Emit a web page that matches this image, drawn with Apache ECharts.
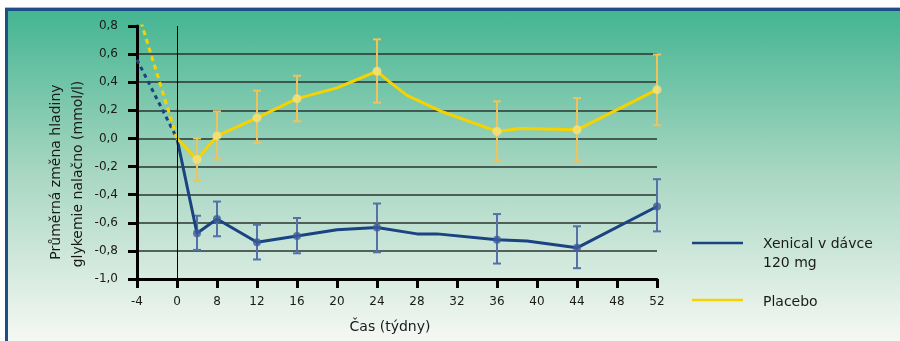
<!DOCTYPE html>
<html>
<head>
<meta charset="utf-8">
<script src="https://cdn.jsdelivr.net/npm/echarts@6/dist/echarts.min.js"></script>
<style>
  html, body { margin: 0; padding: 0; background: #ffffff; overflow: hidden; }
  #frame { position: absolute; left: 0; top: 0; width: 900px; height: 341px; background: #ffffff; overflow: hidden; }
  .edge { position: absolute; }
  #topLight { left: 5px; top: 7px; width: 895px; height: 1px; background: #a3bcd8; }
  #topDark  { left: 5px; top: 8px; width: 895px; height: 3px; background: #1f4d88; }
  #leftDark { left: 5px; top: 8px; width: 3px; height: 333px; background: #1f4d88; }
  #panel {
    position: absolute; left: 8px; top: 11px; width: 892px; height: 330px;
    background: linear-gradient(to bottom, #44b592 0%, #a6d6c1 48%, #f5f8f4 100%);
  }
  #chart { position: absolute; left: 0; top: 0; width: 900px; height: 341px; }
</style>
</head>
<body>
<div id="frame">
  <div id="panel"></div>
  <div class="edge" id="topLight"></div>
  <div class="edge" id="topDark"></div>
  <div class="edge" id="leftDark"></div>
  <div id="chart"></div>
</div>
<script>
// Tick labels on the time axis (weeks); the axis is evenly spaced per label.
const xTickLabels = ['-4', '0', '8', '12', '16', '20', '24', '28', '32', '36', '40', '44', '48', '52'];

// Measurement weeks shared by both groups
const measuredWeeks = [4, 8, 12, 16, 24, 36, 44, 52];

// Xenical 120 mg: mean change and error bar limits (mmol/l)
const xenicalMean = [-0.675, -0.573, -0.739, -0.694, -0.634, -0.72, -0.778, -0.484];
const xenicalLow  = [-0.793, -0.696, -0.861, -0.817, -0.81, -0.89, -0.923, -0.661];
const xenicalHigh = [-0.55, -0.449, -0.614, -0.566, -0.463, -0.538, -0.625, -0.29];
// Extra vertices of the Xenical curve between measurements
const xenicalPathWeeks  = [0, 20, 28, 30, 39];
const xenicalPathValues = [0, -0.65, -0.679, -0.679, -0.729];
// Dashed run-in segment
const xenicalRunInWeeks  = [-4, 0];
const xenicalRunInValues = [0.56, 0];

// Placebo: mean change and error bar limits (mmol/l)
const placeboMean = [-0.149, 0.018, 0.146, 0.283, 0.478, 0.05, 0.061, 0.347];
const placeboLow  = [-0.30, -0.149, -0.033, 0.122, 0.255, -0.161, -0.163, 0.094];
const placeboHigh = [0.0, 0.193, 0.34, 0.446, 0.705, 0.264, 0.287, 0.597];
// Extra vertices of the placebo curve between measurements
const placeboPathWeeks  = [0, 20, 25, 27, 30.6, 38.3];
const placeboPathValues = [0, 0.36, 0.417, 0.306, 0.188, 0.071];
// Dashed run-in segment
const placeboRunInWeeks  = [-3.6, 0];
const placeboRunInValues = [0.83, 0];

// Texts
const yTitleLines = ['Průměrná změna hladiny', 'glykemie nalačno (mmol/l)'];
const xTitle = 'Čas (týdny)';
const seriesNames = ['Xenical v dávce\n120 mg', 'Placebo'];

// Map a week to its position on the evenly spaced label axis:
// -4..0 spans one step, 0..8 spans one step, then 4 weeks per step.
function weekToPos(w) {
  if (w <= 0) return 1 + w / 4;
  if (w <= 8) return 1 + w / 8;
  return 2 + (w - 8) / 4;
}

function buildPath(mWeeks, mVals, pWeeks, pVals) {
  const pts = [];
  mWeeks.forEach((w, i) => pts.push([w, mVals[i]]));
  pWeeks.forEach((w, i) => pts.push([w, pVals[i]]));
  pts.sort((a, b) => a[0] - b[0]);
  return pts.map(p => [weekToPos(p[0]), p[1]]);
}
function buildPoints(weeks, vals) {
  return weeks.map((w, i) => [weekToPos(w), vals[i]]);
}
function buildErr(weeks, lo, hi) {
  return weeks.map((w, i) => [weekToPos(w), lo[i], hi[i]]);
}

const FONT = 'DejaVu Sans';
const BLUE = '#1b4382';
const BLUE_PT = '#3f5c98';
const BLUE_ERR = '#5670a8';
const YEL = '#f6d200';
const YEL_PT = '#f9e27c';
const YEL_ERR = '#f0c35a';

function errorBars(color) {
  return function (params, api) {
    const x = api.value(0);
    const top = api.coord([x, api.value(2)]);
    const bot = api.coord([x, api.value(1)]);
    const hw = 4;
    const style = { stroke: color, lineWidth: 2, fill: null };
    return {
      type: 'group',
      children: [
        { type: 'line', shape: { x1: top[0], y1: top[1], x2: bot[0], y2: bot[1] }, style },
        { type: 'line', shape: { x1: top[0] - hw, y1: top[1], x2: top[0] + hw, y2: top[1] }, style },
        { type: 'line', shape: { x1: bot[0] - hw, y1: bot[1], x2: bot[0] + hw, y2: bot[1] }, style }
      ]
    };
  };
}

const chart = echarts.init(document.getElementById('chart'), null, { renderer: 'canvas' });

const option = {
  backgroundColor: 'transparent',
  animation: false,
  textStyle: { fontFamily: FONT },
  grid: { left: 137, top: 26, width: 520, height: 253 },
  xAxis: {
    type: 'value', min: 0, max: 13, interval: 1,
    axisLine: { show: true, onZero: false, lineStyle: { color: '#000', width: 3 } },
    axisTick: { show: true, length: 9, lineStyle: { color: '#000', width: 3 } },
    axisLabel: {
      margin: 17, color: '#1a1a1a', fontSize: 12, fontFamily: FONT,
      formatter: v => xTickLabels[Math.round(v)] ?? ''
    },
    splitLine: { show: false }
  },
  yAxis: {
    type: 'value', min: -1.0, max: 0.8, interval: 0.2,
    axisLine: { show: true, lineStyle: { color: '#000', width: 3 } },
    axisTick: { show: true, length: 9, lineStyle: { color: '#000', width: 3 } },
    axisLabel: {
      margin: 19, color: '#1a1a1a', fontSize: 12, fontFamily: FONT,
      formatter: v => v.toFixed(1).replace('.', ',').replace('-0,0', '0,0')
    },
    splitLine: { show: true, showMinLine: false, showMaxLine: false, lineStyle: { color: '#2b3330', width: 1.5 } }
  },
  series: [
    {
      name: 'zero', type: 'line', data: [], silent: true,
      markLine: {
        silent: true, symbol: 'none', label: { show: false },
        lineStyle: { color: '#000', width: 1, type: 'solid' },
        data: [{ xAxis: weekToPos(0) }]
      }
    },
    {
      name: 'xenicalErr', type: 'custom', z: 2,
      renderItem: errorBars(BLUE_ERR),
      data: buildErr(measuredWeeks, xenicalLow, xenicalHigh)
    },
    {
      name: 'placeboErr', type: 'custom', z: 2,
      renderItem: errorBars(YEL_ERR),
      data: buildErr(measuredWeeks, placeboLow, placeboHigh)
    },
    {
      name: 'xenicalRunIn', type: 'line', z: 3, symbol: 'none',
      lineStyle: { color: BLUE, width: 3, type: [4, 4] },
      data: buildPoints(xenicalRunInWeeks, xenicalRunInValues)
    },
    {
      name: 'placeboRunIn', type: 'line', z: 3, symbol: 'none',
      lineStyle: { color: YEL, width: 3, type: [5, 4] },
      data: buildPoints(placeboRunInWeeks, placeboRunInValues)
    },
    {
      name: seriesNames[0], type: 'line', z: 4, symbol: 'none',
      lineStyle: { color: BLUE, width: 3 },
      data: buildPath(measuredWeeks, xenicalMean, xenicalPathWeeks, xenicalPathValues)
    },
    {
      name: seriesNames[1], type: 'line', z: 4, symbol: 'none',
      lineStyle: { color: YEL, width: 3 },
      data: buildPath(measuredWeeks, placeboMean, placeboPathWeeks, placeboPathValues)
    },
    {
      name: 'xenicalPts', type: 'scatter', z: 5, symbolSize: 8,
      itemStyle: { color: BLUE_PT },
      data: buildPoints(measuredWeeks, xenicalMean)
    },
    {
      name: 'placeboPts', type: 'scatter', z: 5, symbolSize: 9,
      itemStyle: { color: YEL_PT },
      data: buildPoints(measuredWeeks, placeboMean)
    }
  ],
  graphic: [
    {
      type: 'text', x: 56, y: 172, rotation: Math.PI / 2,
      style: { text: yTitleLines[0], fontFamily: FONT, fontSize: 14, fill: '#1a1a1a', align: 'center', verticalAlign: 'middle' }
    },
    {
      type: 'text', x: 78, y: 174, rotation: Math.PI / 2,
      style: { text: yTitleLines[1], fontFamily: FONT, fontSize: 14, fill: '#1a1a1a', align: 'center', verticalAlign: 'middle' }
    },
    {
      type: 'text', x: 390, y: 327,
      style: { text: xTitle, fontFamily: FONT, fontSize: 14, fill: '#1a1a1a', align: 'center', verticalAlign: 'middle' }
    },
    // legend
    { type: 'line', shape: { x1: 692, y1: 243, x2: 743, y2: 243 }, style: { stroke: BLUE, lineWidth: 2.5 } },
    {
      type: 'text', x: 763, y: 235,
      style: { text: seriesNames[0], fontFamily: FONT, fontSize: 14, lineHeight: 19, fill: '#1a1a1a', align: 'left', verticalAlign: 'top' }
    },
    { type: 'line', shape: { x1: 692, y1: 300, x2: 743, y2: 300 }, style: { stroke: YEL, lineWidth: 2.5 } },
    {
      type: 'text', x: 763, y: 302,
      style: { text: seriesNames[1], fontFamily: FONT, fontSize: 14, fill: '#1a1a1a', align: 'left', verticalAlign: 'middle' }
    }
  ]
};

chart.setOption(option);
</script>
</body>
</html>
